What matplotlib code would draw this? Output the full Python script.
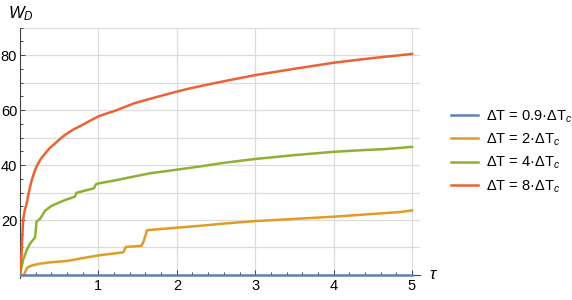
import matplotlib.pyplot as plt
from matplotlib.ticker import MultipleLocator

plt.rcParams['font.family'] = ['Liberation Sans', 'DejaVu Sans']
plt.rcParams['mathtext.fontset'] = 'custom'
plt.rcParams['mathtext.rm'] = 'Liberation Sans'
plt.rcParams['mathtext.it'] = 'Liberation Sans:italic'

# 数据
labels = ['ΔT = 0.9·ΔT$_c$', 'ΔT = 2·ΔT$_c$', 'ΔT = 4·ΔT$_c$', 'ΔT = 8·ΔT$_c$']
colors = ['#5E81B5', '#E19C24', '#8FB032', '#EB6235']

tau_09 = [0, 5.0]
wd_09 = [0, 0]

tau_2 = [0, 0.05, 0.085, 0.11, 0.17, 0.25, 0.38, 0.6, 0.85, 1.02, 1.28, 1.32, 1.35, 1.55,
         1.58, 1.62, 2.0, 2.3, 2.6, 3.0, 3.5, 4.0, 4.4, 4.85, 5.0]
wd_2 = [0, 0, 2.4, 3.0, 3.6, 4.1, 4.6, 5.1, 6.4, 7.2, 8.1, 8.3, 10.2, 10.6,
        12.5, 16.3, 17.2, 17.9, 18.7, 19.6, 20.4, 21.2, 22.0, 22.9, 23.5]

tau_4 = [0, 0.02, 0.04, 0.085, 0.13, 0.19, 0.2, 0.21, 0.26, 0.32, 0.40, 0.55, 0.70, 0.72,
         0.94, 0.97, 1.0, 1.23, 1.4, 1.66, 2.0, 2.3, 2.6, 3.0, 3.5, 4.0, 4.3, 4.66, 5.0]
wd_4 = [0, 3.0, 5.5, 9.1, 11.5, 13.6, 16.0, 19.4, 20.6, 23.4, 25.1, 27.0, 28.5, 29.9,
        31.5, 33.0, 33.3, 34.5, 35.5, 37.0, 38.3, 39.5, 40.8, 42.2, 43.6, 44.8, 45.3, 45.8, 46.6]

tau_8 = [0, 0.01, 0.02, 0.03, 0.04, 0.06, 0.085, 0.11, 0.13, 0.15, 0.18, 0.21, 0.26, 0.32,
         0.38, 0.45, 0.5, 0.57, 0.68, 0.79, 0.9, 1.0, 1.1, 1.21, 1.3, 1.45, 1.7, 2.0, 2.17,
         2.5, 3.0, 3.5, 4.0, 4.5, 5.0]
wd_8 = [0, 4.0, 7.9, 14.5, 20.0, 23.5, 26.0, 29.7, 32.3, 34.5, 37.2, 39.4, 42.0, 44.2,
        46.2, 47.9, 49.2, 50.9, 52.9, 54.5, 56.2, 57.7, 58.7, 59.7, 60.7, 62.4, 64.4, 66.7, 67.9,
        69.9, 72.7, 75.0, 77.2, 78.9, 80.4]

series = [(tau_09, wd_09), (tau_2, wd_2), (tau_4, wd_4), (tau_8, wd_8)]

fig = plt.figure(figsize=(5.72, 3.0), dpi=100)
ax = fig.add_axes([0.035, 0.0742, 0.699, 0.834])

axis_col = '#444444'
grid_col = '#dcdcdc'

# 网格
for gx in range(1, 6):
    ax.plot([gx, gx], [0, 90], color=grid_col, lw=0.9, zorder=0)
for gy in range(10, 100, 10):
    ax.plot([0, 5.1], [gy, gy], color=grid_col, lw=0.9, zorder=0)

# 曲线 (蓝线最后画, 压在坐标轴上)
for (t, w), c, lab in list(zip(series, colors, labels))[1:]:
    ax.plot(t, w, color=c, lw=1.8, label=lab, zorder=3, solid_joinstyle='round')
ax.plot(series[0][0], series[0][1], color=colors[0], lw=1.8, label=labels[0], zorder=4)

ax.set_xlim(0, 5.1)
ax.set_ylim(-1, 90)

for s in ['top', 'right']:
    ax.spines[s].set_visible(False)
ax.spines['bottom'].set_position(('data', 0))
ax.spines['left'].set_position(('data', 0))
ax.spines['bottom'].set_color(axis_col)
ax.spines['left'].set_color(axis_col)
ax.spines['bottom'].set_linewidth(0.8)
ax.spines['left'].set_linewidth(0.8)

ax.xaxis.set_minor_locator(MultipleLocator(0.2))
ax.yaxis.set_minor_locator(MultipleLocator(5))
ax.set_xticks([1, 2, 3, 4, 5])
ax.set_yticks([20, 40, 60, 80])
ax.tick_params(which='both', direction='in', color=axis_col, width=0.7,
               labelsize=10.5, labelcolor='black')
ax.tick_params(which='major', length=3.5, pad=3)
ax.tick_params(which='minor', length=2)
ax.tick_params(axis='y', pad=2)

ax.text(5.22, 0, r'$\tau$', fontsize=12, va='center', ha='left')
fig.text(0.014, 0.955, r'$W_D$', fontsize=12, va='center', ha='left')

# 图例
handles, labs = ax.get_legend_handles_labels()
order = [3, 0, 1, 2]
ax.legend([handles[i] for i in order], [labs[i] for i in order],
          loc='center left', bbox_to_anchor=(0.788, 0.495), bbox_transform=fig.transFigure,
          frameon=False, fontsize=10.5, handlelength=1.85, handletextpad=0.55,
          labelspacing=0.48, borderpad=0, borderaxespad=0)

plt.savefig('out.png', dpi=100)
